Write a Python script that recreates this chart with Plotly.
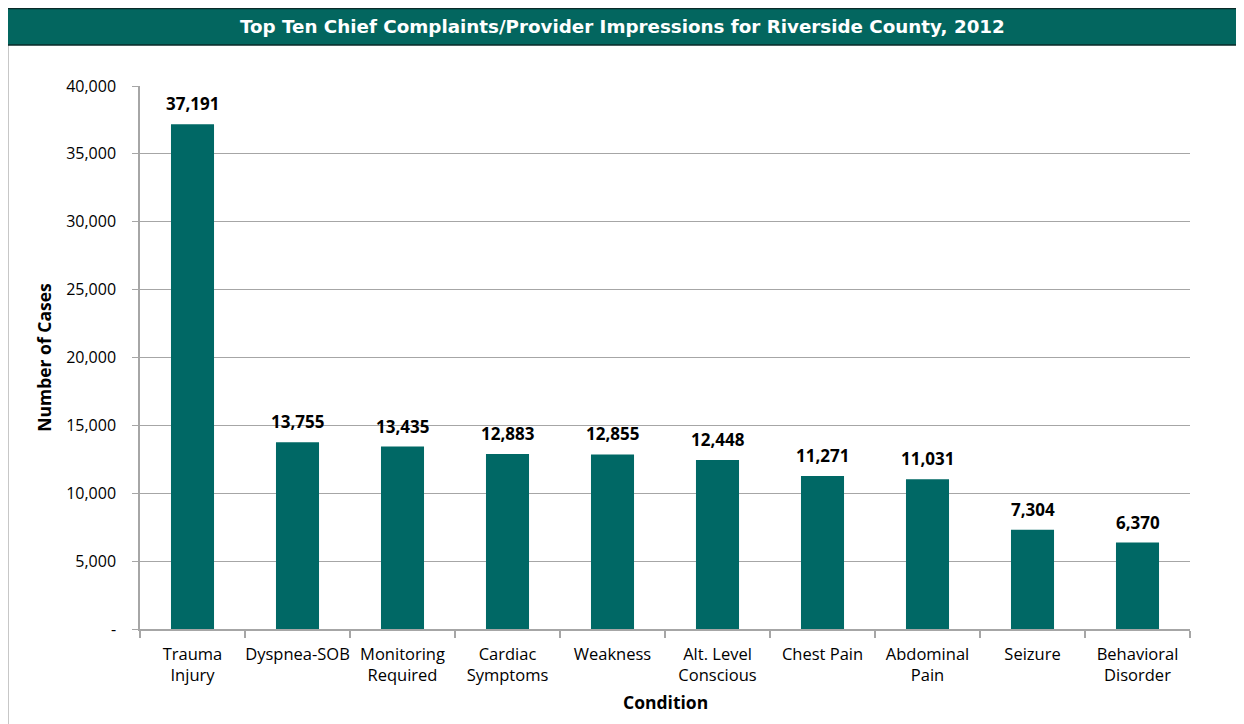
import plotly.graph_objects as go

categories = ["Trauma<br>Injury", "Dyspnea-SOB", "Monitoring<br>Required", "Cardiac<br>Symptoms",
              "Weakness", "Alt. Level<br>Conscious", "Chest Pain", "Abdominal<br>Pain",
              "Seizure", "Behavioral<br>Disorder"]
cases = [37191, 13755, 13435, 12883, 12855, 12448, 11271, 11031, 7304, 6370]
y_tickvals = [0, 5000, 10000, 15000, 20000, 25000, 30000, 35000, 40000]
y_ticktext = ["-", "5,000", "10,000", "15,000", "20,000", "25,000", "30,000", "35,000", "40,000"]
title_text = "Top Ten Chief Complaints/Provider Impressions for Riverside County, 2012"
x_title = "Condition"
y_title = "Number of Cases"

TEAL = "#006865"
FONT = "Open Sans"

# page has an 8px body margin; target screen coords are offset by 8
OFF = 8
W, H = 1244, 724 - OFF
L, R, T, B = 140 - OFF, 1190 - OFF, 86 - OFF, 629 - OFF
pw, ph = R - L, B - T

def px(x):
    return (x - OFF - L) / pw

def py(y):
    return (B - (y - OFF)) / ph

fig = go.Figure()
fig.add_trace(go.Bar(
    x=categories, y=cases, width=0.41,
    marker=dict(color=TEAL, line=dict(width=0)),
    cliponaxis=False,
))

# value labels above bars
for c, v in zip(categories, cases):
    fig.add_annotation(x=c, y=v, xref="x", yref="y", text=f"<b>{v:,}</b>",
                       showarrow=False, yanchor="bottom", yshift=7,
                       font=dict(family=FONT, size=17, color="#000000"))

fig.update_layout(
    width=W, height=H,
    margin=dict(l=L, r=W - R, t=T, b=H - B, autoexpand=False),
    paper_bgcolor="white", plot_bgcolor="white",
    showlegend=False,
    font=dict(family=FONT, size=16, color="#000000"),
    bargap=0.6,
)
fig.update_xaxes(
    showline=True, linecolor="#a6a6a6", linewidth=1.5,
    ticks="outside", tickson="boundaries", ticklen=7, tickcolor="#a6a6a6", tickwidth=1.5,
    tickangle=0, automargin=False, ticklabelstandoff=9,
    tickfont=dict(family=FONT, size=16.5, color="#000000"),
    showgrid=False,
)
fig.update_yaxes(
    range=[0, 40000], tickvals=y_tickvals, ticktext=y_ticktext,
    showline=True, linecolor="#a6a6a6", linewidth=1.5,
    ticks="outside", ticklen=6, tickcolor="#a6a6a6",
    showgrid=True, gridcolor="#a6a6a6", gridwidth=1,
    zeroline=False, automargin=False,
    tickfont=dict(family=FONT, size=16, color="#000000"),
    title=dict(text=f"<b>{y_title}</b>", font=dict(family=FONT, size=17.5), standoff=10),
    ticklabelstandoff=13,
)

# x-axis title
fig.add_annotation(xref="paper", yref="paper", x=0.5, y=py(702),
                   text=f"<b>{x_title}</b>", showarrow=False,
                   font=dict(family=FONT, size=17.5, color="#000000"),
                   xanchor="center", yanchor="middle")

# Title banner
fig.add_shape(type="rect", xref="paper", yref="paper",
              x0=px(7), x1=px(1270), y0=py(45), y1=py(8.5),
              fillcolor="#03665F", line=dict(color="#0a2a28", width=1.5), layer="above")
fig.add_annotation(xref="paper", yref="paper", x=px(622), y=py(27),
                   text=f"<b>{title_text}</b>", showarrow=False,
                   font=dict(family="DejaVu Sans", size=18.3, color="white"),
                   xanchor="center", yanchor="middle")
# Left border line
fig.add_shape(type="line", xref="paper", yref="paper",
              x0=px(7.5), x1=px(7.5), y0=py(45), y1=py(740),
              line=dict(color="#222222", width=1.5))

fig.write_html("out.html")
